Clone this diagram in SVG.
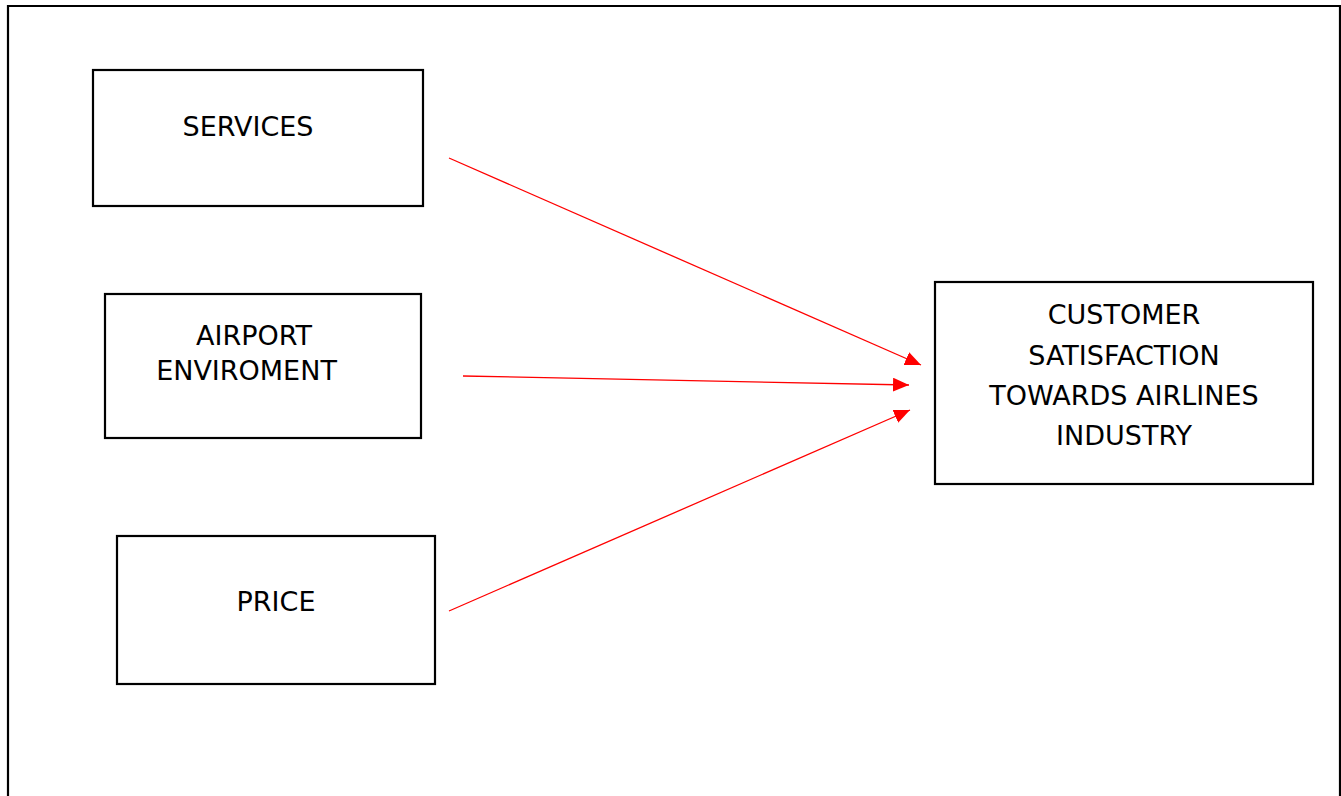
<svg xmlns="http://www.w3.org/2000/svg" width="1341" height="796" viewBox="0 0 1341 796">
<style>
.box{fill:#fff;stroke:#000;stroke-width:2.2}
.t{font-family:"DejaVu Sans","Liberation Sans",sans-serif;font-size:27px;fill:#000;text-anchor:middle}
.c{stroke:#f00;stroke-width:1.3;fill:none;marker-end:url(#ah)}
</style>
<defs>
<marker id="ah" viewBox="0 0 16 14" refX="16" refY="7" markerWidth="16" markerHeight="14" markerUnits="userSpaceOnUse" orient="auto">
<path d="M0,0 L16,7 L0,14 Z" fill="#f00"/>
</marker>
</defs>
<rect width="1341" height="796" fill="#fff"/>
<path d="M8,800 V6 H1340 V800" fill="none" stroke="#000" stroke-width="2.2"/>
<g id="services">
<rect class="box" x="93" y="70" width="330" height="136"/>
<text class="t" x="248" y="136">SERVICES</text>
</g>
<g id="airport">
<rect class="box" x="105" y="294" width="316" height="144"/>
<text class="t" x="254" y="345">AIRPORT</text>
<text class="t" x="246.5" y="380">ENVIROMENT</text>
</g>
<g id="price">
<rect class="box" x="117" y="536" width="318" height="148"/>
<text class="t" x="276" y="611">PRICE</text>
</g>
<g id="customer">
<rect class="box" x="935" y="282" width="378" height="202"/>
<text class="t" x="1124" y="324">CUSTOMER</text>
<text class="t" x="1124" y="365">SATISFACTION</text>
<text class="t" x="1124" y="405">TOWARDS AIRLINES</text>
<text class="t" x="1124" y="445">INDUSTRY</text>
</g>
<g id="connectors">
<line class="c" x1="449" y1="158" x2="921" y2="365"/>
<line class="c" x1="463" y1="376" x2="909" y2="385"/>
<line class="c" x1="449" y1="611" x2="910" y2="410"/>
</g>
</svg>
